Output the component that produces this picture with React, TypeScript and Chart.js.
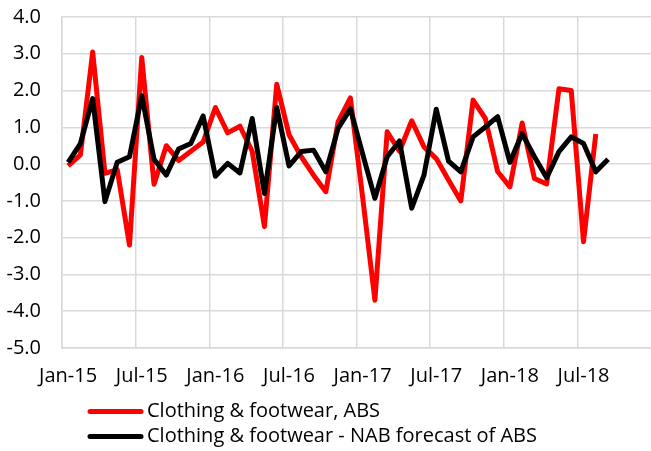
import { useEffect, useRef } from "react";
import { Chart, registerables } from "chart.js";

Chart.register(...registerables);

const categories = [
  "Jan-15", "Feb-15", "Mar-15", "Apr-15", "May-15", "Jun-15", "Jul-15", "Aug-15", "Sep-15", "Oct-15", "Nov-15", "Dec-15",
  "Jan-16", "Feb-16", "Mar-16", "Apr-16", "May-16", "Jun-16", "Jul-16", "Aug-16", "Sep-16", "Oct-16", "Nov-16", "Dec-16",
  "Jan-17", "Feb-17", "Mar-17", "Apr-17", "May-17", "Jun-17", "Jul-17", "Aug-17", "Sep-17", "Oct-17", "Nov-17", "Dec-17",
  "Jan-18", "Feb-18", "Mar-18", "Apr-18", "May-18", "Jun-18", "Jul-18", "Aug-18", "Sep-18", "Oct-18", "Nov-18", "Dec-18",
];

const absSeries = [
  -0.05, 0.25, 3.05, -0.25, -0.15, -2.2, 2.9, -0.55, 0.5, 0.1, 0.35, 0.6,
  1.54, 0.85, 1.03, 0.35, -1.7, 2.17, 0.8, 0.2, -0.3, -0.75, 1.15, 1.8,
  -0.9, -3.7, 0.88, 0.35, 1.18, 0.47, 0.15, -0.43, -1.0, 1.74, 1.24, -0.2,
  -0.62, 1.12, -0.39, -0.54, 2.05, 2.0, -2.11, 0.82, null, null, null, null,
];

const nabSeries = [
  0.05, 0.56, 1.78, -1.02, 0.05, 0.2, 1.86, 0.13, -0.3, 0.41, 0.56, 1.31,
  -0.33, 0.02, -0.24, 1.24, -0.8, 1.54, -0.05, 0.34, 0.38, -0.21, 0.97, 1.5,
  0.28, -0.93, 0.2, 0.63, -1.2, -0.3, 1.49, 0.08, -0.21, 0.74, 1.01, 1.29,
  0.05, 0.83, 0.2, -0.37, 0.34, 0.74, 0.56, -0.21, 0.13, null, null, null,
];

const seriesNames = [
  "Clothing & footwear, ABS",
  "Clothing & footwear - NAB forecast of ABS",
];

const FONT = "'Open Sans', sans-serif";
const GRID = "#d9d9d9";

const legendPlugin = {
  id: "customLegend",
  afterDraw(chart: any) {
    const ctx = chart.ctx;
    const rows = [411.5, 436.5];
    ctx.save();
    chart.data.datasets.forEach((ds: any, i: number) => {
      const y = rows[i];
      ctx.strokeStyle = ds.borderColor;
      ctx.lineWidth = 5;
      ctx.lineCap = "round";
      ctx.beginPath();
      ctx.moveTo(90, y);
      ctx.lineTo(141, y);
      ctx.stroke();
      ctx.fillStyle = "#000";
      ctx.font = `20px ${FONT}`;
      ctx.textBaseline = "middle";
      ctx.textAlign = "left";
      ctx.fillText(ds.label, 147, y);
    });
    ctx.restore();
  },
};

export default function App() {
  const ref = useRef<HTMLCanvasElement | null>(null);

  useEffect(() => {
    document.body.style.margin = "0";
    if (!ref.current) return;
    const chart = new Chart(ref.current, {
      type: "line",
      data: {
        labels: categories,
        datasets: [
          {
            label: seriesNames[0],
            data: absSeries,
            borderColor: "#ff0000",
            backgroundColor: "#ff0000",
            borderWidth: 5,
            borderJoinStyle: "round",
            pointRadius: 0,
            tension: 0,
            order: 1,
            spanGaps: false,
          },
          {
            label: seriesNames[1],
            data: nabSeries,
            borderColor: "#000000",
            backgroundColor: "#000000",
            borderWidth: 5,
            borderJoinStyle: "round",
            pointRadius: 0,
            tension: 0,
            order: 0,
            spanGaps: false,
          },
        ],
      },
      options: {
        responsive: false,
        animation: false,
        layout: { padding: { top: 17, right: 0, bottom: 0, left: 0 } },
        plugins: {
          legend: { display: false },
          tooltip: { enabled: false },
        },
        scales: {
          x: {
            type: "category",
            offset: true,
            grid: {
              offset: true,
              drawTicks: false,
              lineWidth: 1.5,
              color: (c: any) => (typeof c.index === "number" && c.index % 6 === 0 ? GRID : "rgba(0,0,0,0)"),
            },
            border: { display: true, color: GRID, width: 1.5 },
            ticks: {
              autoSkip: false,
              maxRotation: 0,
              minRotation: 0,
              padding: 16,
              color: "#000",
              font: { family: FONT, size: 20 },
              callback: (_v: any, i: number) => (i % 6 === 0 ? categories[i] : ""),
            },
            afterFit: (s: any) => {
              s.height = 103;
              s.paddingRight = 0;
              s.paddingLeft = 0;
            },
          },
          y: {
            min: -5,
            max: 4,
            grid: { color: GRID, lineWidth: 1.5, drawTicks: false },
            border: { display: true, color: GRID, width: 1.5 },
            ticks: {
              stepSize: 1,
              padding: 21,
              color: "#000",
              font: { family: FONT, size: 20 },
              callback: (v: any) => Number(v).toFixed(1),
            },
            afterFit: (s: any) => {
              s.width = 62;
              s.paddingTop = 0;
              s.paddingBottom = 0;
            },
          },
        },
      },
      plugins: [legendPlugin],
    });
    return () => chart.destroy();
  }, []);

  return (
    <div style={{ width: 651, height: 451 }}>
      <canvas ref={ref} width={651} height={451} style={{ display: "block" }} />
    </div>
  );
}
